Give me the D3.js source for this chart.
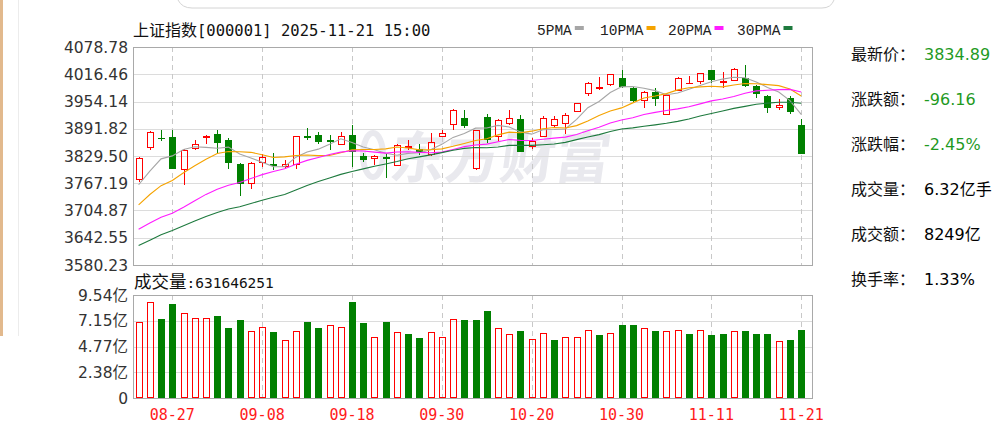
<!DOCTYPE html>
<html><head><meta charset="utf-8">
<script src="https://cdn.jsdelivr.net/npm/d3@7/dist/d3.min.js"></script>
<style>html,body{margin:0;padding:0;background:#fff;}svg{display:block}</style>
</head><body><svg id="chart" width="1007" height="432"></svg>
<script>
const dates = ["08-22","08-25","08-26","08-27","08-28","08-29","09-01","09-02","09-03","09-04","09-05","09-08","09-09","09-10","09-11","09-12","09-15","09-16","09-17","09-18","09-19","09-22","09-23","09-24","09-25","09-26","09-29","09-30","10-09","10-10","10-13","10-14","10-15","10-16","10-17","10-20","10-21","10-22","10-23","10-24","10-27","10-28","10-29","10-30","10-31","11-03","11-04","11-05","11-06","11-07","11-10","11-11","11-12","11-13","11-14","11-17","11-18","11-19","11-20","11-21"];
const opens = [3776,3850,3871,3873,3800,3848,3873,3879,3867,3812,3767,3816,3812,3806,3812,3876,3878,3866,3858,3878,3830,3825,3827,3810,3850,3845,3833,3876,3903,3916,3803,3918,3875,3905,3913,3852,3875,3900,3906,3933,3973,3985,3994,4009,3986,3958,3975,3926,3981,3996,4000,4026,3998,4004,4008,3990,3966,3941,3962,3901];
const highs = [3828,3887,3889,3889,3846,3867,3878,3888,3871,3813,3815,3833,3837,3821,3876,3893,3884,3878,3884,3900,3836,3832,3833,3856,3867,3856,3882,3890,3936,3934,3890,3925,3913,3935,3924,3870,3920,3920,3928,3951,3999,4010,4017,4026,3988,3978,3985,3972,4010,4013,4019,4027,4022,4031,4038,3991,3968,3960,3966,3913];
const lows = [3770,3843,3863,3800,3764,3844,3858,3833,3799,3738,3753,3805,3797,3799,3799,3866,3858,3844,3855,3805,3815,3808,3780,3808,3843,3832,3830,3873,3888,3894,3798,3860,3863,3901,3838,3845,3872,3896,3880,3930,3966,3980,3990,3984,3950,3939,3943,3924,3978,3994,3994,3996,3985,4002,3988,3962,3928,3935,3926,3834];
const closes = [3825.76,3883.56,3868.38,3800.35,3843.60,3857.93,3875.53,3858.13,3813.56,3765.88,3812.51,3826.84,3807.29,3812.22,3875.31,3870.60,3860.50,3861.87,3876.34,3838.00,3820.09,3828.58,3821.83,3853.64,3853.30,3838.00,3862.53,3882.78,3933.97,3897.03,3889.50,3865.23,3912.21,3916.23,3839.76,3863.89,3916.33,3913.76,3922.41,3950.31,3996.94,3988.22,4016.33,3986.90,3954.79,3976.52,3960.19,3969.25,4007.76,3997.56,4018.60,4002.76,4000.14,4029.50,3990.49,3972.03,3939.81,3946.74,3931.05,3834.89];
const prevClose = 3771.10;
const volumes = [7.01,8.86,7.32,8.73,7.87,7.44,7.44,7.59,6.48,7.20,6.21,6.60,6.09,5.37,6.21,7.04,6.48,6.76,6.60,8.86,6.92,5.62,7.04,6.09,5.96,5.53,6.09,5.62,7.32,7.20,7.20,8.03,6.48,5.93,6.21,5.49,6.05,5.37,5.62,5.62,6.33,5.81,6.05,6.76,6.76,6.48,6.21,6.21,6.33,5.93,6.33,5.81,5.93,6.21,6.21,5.93,5.93,5.25,5.37,6.32];
const ma5 = [3763.7,3794.8,3823.0,3829.8,3844.3,3850.8,3849.2,3847.1,3849.8,3834.2,3825.1,3815.4,3805.2,3805.0,3826.8,3838.5,3845.2,3856.1,3868.9,3860.2,3850.1,3843.7,3835.7,3831.2,3835.5,3837.1,3843.9,3856.1,3872.1,3880.9,3893.2,3893.7,3899.6,3896.0,3884.6,3879.5,3889.7,3890.0,3891.2,3913.3,3940.0,3954.3,3974.8,3987.7,3988.6,3984.6,3979.0,3969.5,3973.7,3982.3,3990.7,3999.2,4005.4,4009.7,4008.3,3999.0,3986.4,3975.7,3956.0,3924.9];
const ma10 = [3717.9,3741.5,3761.7,3773.4,3791.1,3807.2,3822.0,3835.1,3839.8,3839.3,3837.9,3832.3,3826.2,3827.4,3830.5,3831.8,3830.3,3830.7,3836.9,3843.5,3844.3,3844.5,3845.9,3850.0,3847.8,3843.6,3843.8,3845.9,3851.7,3858.2,3865.1,3868.8,3877.8,3884.1,3882.7,3886.3,3891.7,3894.8,3893.6,3899.0,3909.7,3922.0,3932.4,3939.5,3951.0,3962.3,3966.6,3972.2,3980.7,3985.5,3987.6,3989.1,3987.5,3991.7,3995.3,3994.8,3992.8,3990.5,3982.9,3966.6];
const ma20 = [3662.2,3676.5,3689.5,3698.7,3712.2,3727.1,3741.7,3753.7,3762.7,3769.0,3777.9,3786.9,3793.9,3800.4,3810.8,3819.5,3826.1,3832.9,3838.4,3841.4,3841.1,3838.4,3836.0,3838.7,3839.2,3837.7,3837.0,3838.3,3844.3,3850.9,3854.7,3856.6,3861.9,3867.1,3865.3,3865.0,3867.7,3870.3,3872.6,3878.6,3887.4,3895.4,3905.1,3911.8,3916.9,3924.3,3929.2,3933.5,3937.2,3942.2,3948.7,3955.5,3959.9,3965.6,3973.1,3978.5,3979.7,3981.4,3981.8,3976.0];
const ma30 = [3624.9,3637.1,3649.2,3659.1,3670.0,3680.7,3691.3,3700.5,3708.2,3713.5,3720.8,3728.4,3735.0,3741.6,3751.6,3762.0,3771.2,3779.4,3787.5,3793.9,3800.0,3806.1,3811.3,3816.9,3823.2,3827.5,3832.0,3837.2,3842.8,3847.0,3849.1,3848.5,3850.0,3853.8,3853.7,3853.9,3855.3,3857.1,3860.7,3866.9,3873.0,3878.4,3885.4,3891.2,3893.9,3897.4,3900.7,3904.3,3908.7,3914.2,3920.8,3926.6,3932.6,3938.4,3943.0,3947.8,3950.4,3952.5,3952.4,3950.3];
const priceTicks = [3580.23,3642.55,3704.87,3767.19,3829.50,3891.82,3954.14,4016.46,4078.78];
const volTicks = [0,2.385,4.77,7.155,9.54];
const volTickLabels = ["0","2.38亿","4.77亿","7.15亿","9.54亿"];
const xLabelDates = ["08-27","09-08","09-18","09-30","10-20","10-30","11-11","11-21"];
const legendNames = ["5PMA","10PMA","20PMA","30PMA"];
const titleName = "上证指数";
const titleRest = "[000001] 2025-11-21 15:00";
const volHeaderName = "成交量";
const volHeaderValue = ":631646251";
const infoLabels = ["最新价：","涨跌额：","涨跌幅：","成交量：","成交额：","换手率："];
const infoValues = ["3834.89","-96.16","-2.45%","6.32亿手","8249亿","1.33%"];

const RED = "#ff0000", GREEN = "#008000";
const maColors = ["#a6a6a6","#f5a300","#ff1cff","#1e7a3e"];
const infoColors = ["#1f9a1f","#1f9a1f","#1f9a1f","#000","#000","#000"];

const svg = d3.select("#chart");
const L = 133, R = 813;
const P_TOP = 47, P_BOT = 265, V_TOP = 295, V_BOT = 398;

// decorations (page frame)
svg.append("rect").attr("x",0).attr("y",0).attr("width",3).attr("height",336).attr("fill","#e2b98d");
svg.append("line").attr("x1",18.5).attr("x2",18.5).attr("y1",0).attr("y2",336).attr("stroke","#ececec");
svg.append("path").attr("d","M178,0 Q182,8 192,8 L822,8 Q831,8 834,0").attr("fill","none").attr("stroke","#d4d4d4");

const x = d3.scalePoint().domain(dates).range([L, 806.8]).padding(0.5);
const y = d3.scaleLinear().domain([priceTicks[0], priceTicks[priceTicks.length-1]]).range([P_BOT, P_TOP]);
const yv = d3.scaleLinear().domain([0, volTicks[volTicks.length-1]]).range([V_BOT, V_TOP]);
const cx = d => Math.round(x(d));

// watermark
const wm = svg.append("g").attr("fill","#e9e9ee");
wm.append("ellipse").attr("cx",373).attr("cy",155).attr("rx",10).attr("ry",22).attr("fill","none").attr("stroke","#e9e9ee").attr("stroke-width",6);
wm.append("text").attr("x",388).attr("y",178).attr("font-family","Noto Sans CJK SC").attr("font-weight","bold")
  .attr("font-size",56).attr("textLength",220).attr("lengthAdjust","spacingAndGlyphs")
  .attr("transform","skewX(-8) translate(25,0)").text("东方财富");

// price grid
const gP = svg.append("g");
gP.selectAll("line.h").data(priceTicks.slice(1,-1)).join("line")
  .attr("x1",L).attr("x2",R).attr("y1",d=>Math.round(y(d))+0.5).attr("y2",d=>Math.round(y(d))+0.5)
  .attr("stroke","#dcdcdc");
gP.selectAll("line.v").data(xLabelDates).join("line")
  .attr("x1",d=>cx(d)+0.5).attr("x2",d=>cx(d)+0.5).attr("y1",P_TOP).attr("y2",P_BOT)
  .attr("stroke","#c8c8c8").attr("stroke-dasharray","5,4");
// volume grid
const gV = svg.append("g");
gV.selectAll("line.h").data(volTicks.slice(1,-1)).join("line")
  .attr("x1",L).attr("x2",R).attr("y1",d=>Math.round(yv(d))+0.5).attr("y2",d=>Math.round(yv(d))+0.5)
  .attr("stroke","#dcdcdc");
gV.selectAll("line.v").data(xLabelDates).join("line")
  .attr("x1",d=>cx(d)+0.5).attr("x2",d=>cx(d)+0.5).attr("y1",V_TOP).attr("y2",V_BOT)
  .attr("stroke","#c8c8c8").attr("stroke-dasharray","5,4");

// candles
const data = dates.map((d,i)=>({d, o:opens[i], h:highs[i], l:lows[i], c:closes[i], v:volumes[i], pc: i===0?prevClose:closes[i-1]}));
const gC = svg.append("g");
data.forEach(k=>{
  const X = cx(k.d);
  const up = k.c >= k.o;
  const col = up ? RED : GREEN;
  const t = Math.round(y(Math.max(k.o,k.c))), b = Math.round(y(Math.min(k.o,k.c)));
  const hy = Math.round(y(k.h)), ly = Math.round(y(k.l));
  if (up) {
    if (hy < t) gC.append("line").attr("x1",X+0.5).attr("x2",X+0.5).attr("y1",hy).attr("y2",t).attr("stroke",col);
    if (ly > b) gC.append("line").attr("x1",X+0.5).attr("x2",X+0.5).attr("y1",b+1).attr("y2",ly).attr("stroke",col);
    if (b - t >= 2) {
      gC.append("rect").attr("x",X-3+0.5).attr("y",t+0.5).attr("width",6).attr("height",b-t).attr("fill","none").attr("stroke",col);
    } else {
      gC.append("rect").attr("x",X-3).attr("y",t).attr("width",7).attr("height",Math.max(1,b-t+1)).attr("fill",col);
    }
  } else {
    gC.append("line").attr("x1",X+0.5).attr("x2",X+0.5).attr("y1",hy).attr("y2",ly).attr("stroke",col);
    gC.append("rect").attr("x",X-3).attr("y",t).attr("width",7).attr("height",Math.max(1,b-t)).attr("fill",col);
  }
});

// moving averages
const mas = [ma5, ma10, ma20, ma30];
const gM = svg.append("g");
mas.forEach((arr,j)=>{
  const line = d3.line().x((v,i)=>x(dates[i])).y(v=>y(v));
  gM.append("path").attr("d",line(arr)).attr("fill","none").attr("stroke",maColors[j]).attr("stroke-width",1.1);
});

// volume bars
const gB = svg.append("g");
data.forEach(k=>{
  const X = cx(k.d);
  const up = k.c >= k.pc;
  const top = Math.round(yv(k.v));
  if (up) {
    gB.append("rect").attr("x",X-3+0.5).attr("y",top+0.5).attr("width",6).attr("height",V_BOT-top-1).attr("fill","none").attr("stroke",RED);
  } else {
    gB.append("rect").attr("x",X-3).attr("y",top).attr("width",7).attr("height",V_BOT-top).attr("fill",GREEN);
  }
});

// frames
svg.append("rect").attr("x",L+0.5).attr("y",P_TOP+0.5).attr("width",R-L-1).attr("height",P_BOT-P_TOP).attr("fill","none").attr("stroke","#a9a9a9");
svg.append("rect").attr("x",L+0.5).attr("y",V_TOP+0.5).attr("width",R-L-1).attr("height",V_BOT-V_TOP).attr("fill","none").attr("stroke","#a9a9a9");

// y axis labels
const axFont = "DejaVu Sans, Noto Sans CJK SC, sans-serif";
svg.append("g").selectAll("text").data(priceTicks).join("text")
  .attr("x",128).attr("y",d=>y(d)).attr("dy","0.36em").attr("text-anchor","end")
  .attr("font-family",axFont).attr("font-size",15.5).attr("fill","#333").text(d=>d.toFixed(2));
svg.append("g").selectAll("text").data(volTicks).join("text")
  .attr("x",128).attr("y",d=>yv(d)).attr("dy","0.36em").attr("text-anchor","end")
  .attr("font-family",axFont).attr("font-size",15.5).attr("fill","#333").text((d,i)=>volTickLabels[i]);

// x labels
svg.append("g").selectAll("text").data(xLabelDates).join("text")
  .attr("x",d=>x(d)).attr("y",420).attr("text-anchor","middle")
  .attr("font-family","DejaVu Sans Mono, monospace").attr("font-size",15).attr("fill","#ff1a1a").text(d=>d);

// title
const tt = svg.append("text").attr("x",133).attr("y",36).attr("fill","#111");
tt.append("tspan").attr("font-family","Noto Sans CJK SC").attr("font-size",16).text(titleName);
tt.append("tspan").attr("font-family","DejaVu Sans Mono, monospace").attr("font-size",15.5).text(titleRest);

// legend
const lx = [537, 600, 668, 737];
legendNames.forEach((n,j)=>{
  const t = svg.append("text").attr("x",lx[j]).attr("y",35).attr("font-family","Liberation Mono, monospace")
    .attr("font-size",14.5).attr("fill","#222").text(n);
  const w = n.length * 8.7;
  svg.append("rect").attr("x",lx[j]+w+3).attr("y",26).attr("width",9).attr("height",4).attr("fill",maColors[j]);
});

// volume header
const vh = svg.append("text").attr("x",134).attr("y",288).attr("fill","#111");
vh.append("tspan").attr("font-family","Noto Sans CJK SC").attr("font-size",17.5).text(volHeaderName);
vh.append("tspan").attr("font-family","DejaVu Sans Mono, monospace").attr("font-size",14.5).text(volHeaderValue);

// info panel
const rowY = [59.5,104.5,149.5,194.5,239.5,284.5];
infoLabels.forEach((lab,i)=>{
  svg.append("text").attr("x",851).attr("y",rowY[i]).attr("font-family","Noto Sans CJK SC").attr("font-size",16).attr("fill","#111").text(lab);
  svg.append("text").attr("x",924).attr("y",rowY[i]).attr("font-family",axFont).attr("font-size",16).attr("fill",infoColors[i]).text(infoValues[i]);
});
</script></body></html>
